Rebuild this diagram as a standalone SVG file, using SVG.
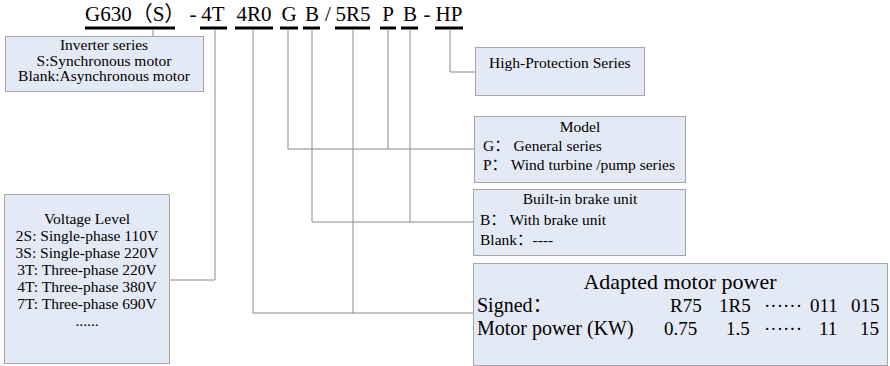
<svg xmlns="http://www.w3.org/2000/svg" width="890" height="366" viewBox="0 0 890 366">
<style>
.t{font-family:"Liberation Serif","Noto Sans CJK SC",serif;fill:#000}
.title{font-size:21px}
.b{font-size:15.5px}
.p{font-size:20px}
.n{font-size:19px}
.dots{font-family:"Liberation Serif",serif;font-size:19px;fill:#000}
.box{fill:#e4eaf5;stroke:#a6a6a6;stroke-width:1}
.ul{stroke:#000;stroke-width:3;fill:none}
.c{stroke:#8a8a8a;stroke-width:1;fill:none}
</style>
<rect width="890" height="366" fill="#fff"/>
<g id="code">
<text class="t title" x="85" y="21">G630（S）</text>
<text class="t title" x="193" y="21" text-anchor="middle">-</text>
<text class="t title" x="213" y="21" text-anchor="middle">4T</text>
<text class="t title" x="254" y="21" text-anchor="middle">4R0</text>
<text class="t title" x="289" y="21" text-anchor="middle">G</text>
<text class="t title" x="312" y="21" text-anchor="middle">B</text>
<text class="t title" x="328" y="21" text-anchor="middle">/</text>
<text class="t title" x="353" y="21" text-anchor="middle">5R5</text>
<text class="t title" x="388" y="21" text-anchor="middle">P</text>
<text class="t title" x="410" y="21" text-anchor="middle">B</text>
<text class="t title" x="427" y="21" text-anchor="middle">-</text>
<text class="t title" x="449" y="21" text-anchor="middle">HP</text>
<path class="ul" d="M85 28H175M200 28H227M235 28H273M280 28H298M303 28H320M335 28H370M380 28H396M401 28H418M435 28H463"/>
</g>
<g id="connectors">
<path class="c" d="M153 29.5V36"/>
<path class="c" d="M215 29.5V280H169"/>
<path class="c" d="M253 29.5V313H473"/>
<path class="c" d="M353 29.5V313"/>
<path class="c" d="M288 29.5V149H474"/>
<path class="c" d="M388 29.5V149"/>
<path class="c" d="M312 29.5V222H473"/>
<path class="c" d="M410 29.5V222"/>
<path class="c" d="M450 29.5V72H475"/>
</g>
<g id="inverter-series">
<rect class="box" x="5.5" y="36.5" width="198" height="55"/>
<text class="t b" x="104" y="50" text-anchor="middle">Inverter series</text>
<text class="t b" x="104" y="65.5" text-anchor="middle">S:Synchronous motor</text>
<text class="t b" x="104" y="81" text-anchor="middle">Blank:Asynchronous motor</text>
</g>
<g id="high-protection">
<rect class="box" x="475.5" y="47.5" width="169" height="48"/>
<text class="t b" x="489" y="68">High-Protection Series</text>
</g>
<g id="model">
<rect class="box" x="474.5" y="116.5" width="211" height="66"/>
<text class="t b" x="580" y="132" text-anchor="middle">Model</text>
<text class="t b" x="483" y="151">G： General series</text>
<text class="t b" x="483" y="170">P： Wind turbine /pump series</text>
</g>
<g id="brake-unit">
<rect class="box" x="473.5" y="189.5" width="212" height="66"/>
<text class="t b" x="580" y="204" text-anchor="middle">Built-in brake unit</text>
<text class="t b" x="480" y="225">B： With brake unit</text>
<text class="t b" x="480" y="245">Blank：----</text>
</g>
<g id="voltage-level">
<rect class="box" x="4.5" y="194.5" width="165" height="169"/>
<text class="t b" x="87" y="224" text-anchor="middle">Voltage Level</text>
<text class="t b" x="87" y="241" text-anchor="middle">2S: Single-phase 110V</text>
<text class="t b" x="87" y="258" text-anchor="middle">3S: Single-phase 220V</text>
<text class="t b" x="87" y="275" text-anchor="middle">3T: Three-phase 220V</text>
<text class="t b" x="87" y="292" text-anchor="middle">4T: Three-phase 380V</text>
<text class="t b" x="87" y="309" text-anchor="middle">7T: Three-phase 690V</text>
<text class="t b" x="87" y="326" text-anchor="middle">......</text>
</g>
<g id="motor-power">
<rect class="box" x="473.5" y="263.5" width="414" height="102"/>
<text class="t" font-size="22" x="680" y="289" text-anchor="middle">Adapted motor power</text>
<text class="t p" x="477" y="312">Signed：</text>
<text class="t n" x="670" y="312">R75</text>
<text class="t n" x="719" y="312">1R5</text>
<text class="dots" x="764" y="312">······</text>
<text class="t n" x="810" y="312">011</text>
<text class="t n" x="851" y="312">015</text>
<text class="t p" x="477" y="335">Motor power (KW)</text>
<text class="t n" x="664" y="335">0.75</text>
<text class="t n" x="726" y="335">1.5</text>
<text class="dots" x="764" y="335">······</text>
<text class="t n" x="819" y="335">11</text>
<text class="t n" x="860" y="335">15</text>
</g>
</svg>
